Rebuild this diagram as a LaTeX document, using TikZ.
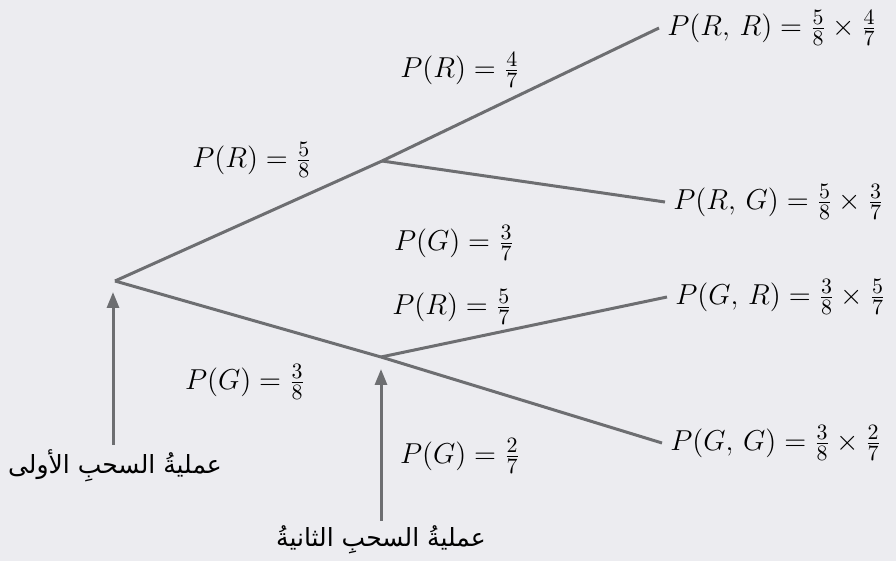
\documentclass[tikz,border=0pt]{standalone}
\usepackage{amsmath}
\usepackage{fontspec}
\newfontfamily\arabicfont[Script=Arabic]{DejaVu Sans}
\TeXXeTstate=1
\usepackage{tikz}
\usetikzlibrary{arrows.meta,positioning}
\definecolor{treegray}{RGB}{109,110,113}
\definecolor{bggray}{RGB}{236,236,240}

\begin{document}
\begin{tikzpicture}[x=0.5pt,y=-0.5pt,
  branch/.style={draw=treegray,line width=1.5pt},
  uparrow/.style={draw=treegray,line width=1.5pt,-{Triangle[length=8pt,width=6pt]}},
  prob/.style={font=\fontsize{15}{18}\selectfont},
  outcome/.style={prob,anchor=west,inner sep=4pt},
  drawlbl/.style={font=\arabicfont\fontsize{12.5}{15}\selectfont,inner sep=2pt}]
  \fill[bggray] (0,0) rectangle (896,561);
  \useasboundingbox (0,0) rectangle (896,561);
  % tree points
  \coordinate (root) at (115,281);
  \coordinate (firstR) at (382,161);
  \coordinate (firstG) at (381,357);
  \coordinate (endRR) at (659,28);
  \coordinate (endRG) at (665,202);
  \coordinate (endGR) at (667,297);
  \coordinate (endGG) at (662,443);
  \draw[branch] (root) -- (firstR);
  \draw[branch] (root) -- (firstG);
  \draw[branch] (firstR) -- (endRR);
  \draw[branch] (firstR) -- (endRG);
  \draw[branch] (firstG) -- (endGR);
  \draw[branch] (firstG) -- (endGG);
  % branch probabilities
  \node[prob] (pR1) at (252,160) {$P(R)=\frac{5}{8}$};
  \node[prob] (pG1) at (245,382) {$P(G)=\frac{3}{8}$};
  \node[prob] (pRR) at (460,70) {$P(R)=\frac{4}{7}$};
  \node[prob] (pRG) at (454,243) {$P(G)=\frac{3}{7}$};
  \node[prob] (pGR) at (452,307) {$P(R)=\frac{5}{7}$};
  \node[prob] (pGG) at (460,456) {$P(G)=\frac{2}{7}$};
  % outcomes
  \node[outcome] (oRR) at (endRR) {$P(R,\,R)=\frac{5}{8}\times\frac{4}{7}$};
  \node[outcome] (oRG) at (endRG) {$P(R,\,G)=\frac{5}{8}\times\frac{3}{7}$};
  \node[outcome] (oGR) at (endGR) {$P(G,\,R)=\frac{3}{8}\times\frac{5}{7}$};
  \node[outcome] (oGG) at (endGG) {$P(G,\,G)=\frac{3}{8}\times\frac{2}{7}$};
  % draw stages
  \coordinate (tip1) at (113,292);
  \coordinate (tip2) at (381,369);
  \node[drawlbl,anchor=north] (draw1) at (115,445) {\beginR عمليةُ السحبِ الأولى\endR};
  \node[drawlbl,anchor=north] (draw2) at (381,521) {\beginR عمليةُ السحبِ الثانيةُ\endR};
  \draw[uparrow] (draw1.north -| tip1) -- (tip1);
  \draw[uparrow] (draw2.north) -- (tip2);
\end{tikzpicture}
\end{document}
